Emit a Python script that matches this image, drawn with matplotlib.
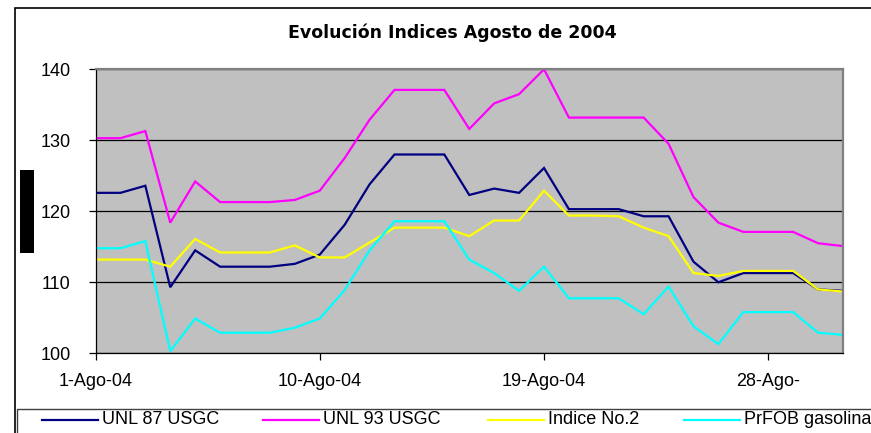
import matplotlib
matplotlib.use("Agg")
import matplotlib.pyplot as plt
from matplotlib.patches import Rectangle
from matplotlib.lines import Line2D

plt.rcParams['font.family'] = ['Liberation Sans', 'DejaVu Sans']

days = [1, 2, 3, 4, 5, 6, 7, 8, 9, 10, 11, 12, 13, 14, 15, 16,
        17, 18, 19, 20, 21, 22, 23, 24, 25, 26, 27, 28, 29, 30, 31]

unl87 = [122.6, 122.6, 123.6, 109.3, 114.5, 112.2, 112.2, 112.2, 112.6, 113.9,
         118.1, 123.8, 128.0, 128.0, 128.0, 122.3, 123.2, 122.6, 126.1, 120.3,
         120.3, 120.3, 119.3, 119.3, 112.9, 110.0, 111.3, 111.3, 111.3, 109.0, 108.8]
unl93 = [130.3, 130.3, 131.3, 118.4, 124.2, 121.3, 121.3, 121.3, 121.6, 122.9,
         127.5, 132.9, 137.1, 137.1, 137.1, 131.6, 135.2, 136.5, 140.0, 133.2,
         133.2, 133.2, 133.2, 129.5, 122.0, 118.4, 117.1, 117.1, 117.1, 115.5, 115.1]
indice2 = [113.2, 113.2, 113.2, 112.2, 116.1, 114.2, 114.2, 114.2, 115.2, 113.5,
           113.5, 115.6, 117.7, 117.7, 117.7, 116.5, 118.7, 118.7, 122.9, 119.4,
           119.4, 119.3, 117.7, 116.5, 111.3, 110.9, 111.6, 111.6, 111.6, 109.0, 108.7]
prfob = [114.8, 114.8, 115.8, 100.3, 104.9, 102.9, 102.9, 102.9, 103.6, 104.9,
         108.9, 114.5, 118.6, 118.6, 118.6, 113.2, 111.3, 108.8, 112.2, 107.75,
         107.75, 107.75, 105.5, 109.4, 103.8, 101.3, 105.8, 105.8, 105.8, 102.9, 102.6]

series_names = ['UNL 87 USGC', 'UNL 93 USGC', 'Indice No.2', 'PrFOB gasolina']
series_colors = ['#000080', '#FF00FF', '#FFFF00', '#00FFFF']

tick_days = [1, 10, 19, 28]
tick_labels = ['1-Ago-04', '10-Ago-04', '19-Ago-04', '28-Ago-']
y_ticks = [100, 110, 120, 130, 140]

W, H = 871, 433
fig = plt.figure(figsize=(W / 100, H / 100), dpi=100)

# outer chart border (cut off at right/bottom)
fig.add_artist(Rectangle((15 / W, -0.2), 2.0, (H - 7.5) / H + 0.2,
                         transform=fig.transFigure, fill=False,
                         edgecolor='black', linewidth=1.2))

ax = fig.add_axes([95.5 / W, (H - 353.3) / H, (843 - 95.5) / W, (353.3 - 69.3) / H])
ax.set_facecolor('#C0C0C0')

for vals, name, col in zip([unl87, unl93, indice2, prfob], series_names, series_colors):
    ax.plot(days, vals, color=col, linewidth=1.6, label=name, solid_joinstyle='miter')

ax.set_xlim(days[0], days[-1])
ax.set_ylim(y_ticks[0], y_ticks[-1])
ax.set_yticks(y_ticks)
ax.set_xticks(tick_days)
ax.set_xticklabels(tick_labels)
ax.yaxis.grid(True, color='black', linewidth=0.9)
ax.set_axisbelow(True)

ax.tick_params(axis='y', direction='out', length=5, width=0.9, pad=13, labelsize=13)
ax.tick_params(axis='x', direction='out', length=5, width=0.9, pad=9, labelsize=13)

for s in ['left', 'bottom']:
    ax.spines[s].set_color('black')
    ax.spines[s].set_linewidth(0.9)
for s in ['top', 'right']:
    ax.spines[s].set_color('#808080')
    ax.spines[s].set_linewidth(1.6)

fig.text(452 / W, (H - 33) / H, 'Evolución Indices Agosto de 2004',
         ha='center', va='center', fontsize=12.5, fontweight='bold',
         family=['DejaVu Sans'])

# black box (hidden axis label area)
fig.add_artist(Rectangle((20 / W, (H - 253) / H), 14 / W, 83 / H,
                         transform=fig.transFigure, facecolor='black',
                         edgecolor='none'))

# legend box (cut off at right/bottom)
fig.add_artist(Rectangle((17.3 / W, -0.2), 2.0, (H - 408.7) / H + 0.2,
                         transform=fig.transFigure, fill=False,
                         edgecolor='#404040', linewidth=1.0))

handle_starts = [42, 263, 488, 684]
ly = (H - 420) / H
for x0, name, col in zip(handle_starts, series_names, series_colors):
    fig.add_artist(Line2D([x0 / W, (x0 + 56) / W], [ly, ly],
                          transform=fig.transFigure, color=col, linewidth=1.6))
    fig.text((x0 + 60) / W, ly, name, ha='left', va='center', fontsize=13)

fig.savefig('out.png', dpi=100)
